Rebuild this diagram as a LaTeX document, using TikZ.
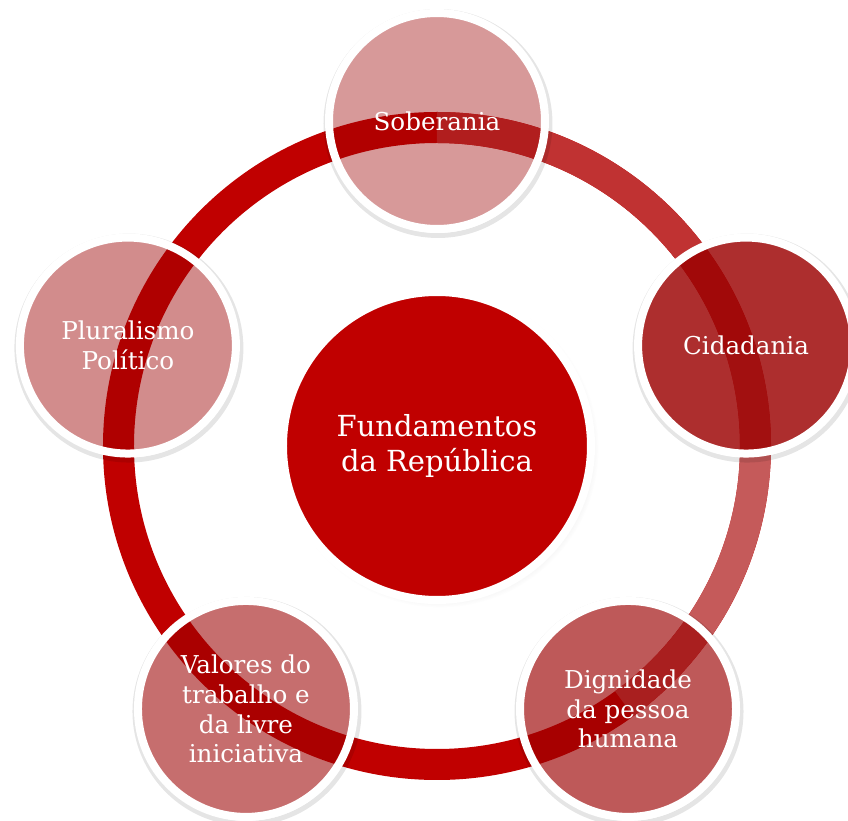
\documentclass[tikz,border=0pt]{standalone}
\usepackage{fontspec}
\setmainfont{DejaVu Serif}
\usetikzlibrary{shadows}
\definecolor{ringA}{RGB}{192,0,0}
\definecolor{ringB}{RGB}{192,50,50}
\definecolor{ringC}{RGB}{197,90,90}
\definecolor{satC}{RGB}{155,0,0}
\tikzstyle{ring}=[line width=0.62cm, line cap=butt]
\tikzstyle{shade}=[draw=black, draw opacity=0.10, line width=0.10cm]
\tikzstyle{hub}=[draw=white, line width=0.16cm, fill=ringA, shape=circle, minimum size=6.16cm, inner sep=0pt, align=center, text=white, font=\fontsize{16.5}{20}\selectfont, circular drop shadow={shadow scale=1.03, opacity=0.25}]
\tikzstyle{sat}=[draw=white, line width=0.16cm, fill=satC, shape=circle, minimum size=4.32cm, inner sep=0pt, align=center, text=white, text opacity=1, font=\fontsize{14}{17}\selectfont]
\def\hub{\node[style=hub]}
\def\sat{\node[style=sat]}
\def\shade{\draw[style=shade]}

\begin{document}
\begin{tikzpicture}
      \useasboundingbox (-8.74,-7.5) rectangle (8.22,8.92);
      \clip (-8.74,-7.5) rectangle (8.22,8.92);
      % ring
      \draw[style=ring, color=ringA] (0,0) circle (6.37);
      \draw[style=ring, color=ringB] (90:6.37) arc[start angle=90, end angle=18, radius=6.37];
      \draw[style=ring, color=ringC] (18:6.37) arc[start angle=18, end angle=-54, radius=6.37];
      % shadows
      \coordinate (pSob) at (90:6.5);
      \coordinate (pCid) at (18:6.5);
      \coordinate (pDig) at (-54:6.5);
      \coordinate (pVal) at (-126:6.5);
      \coordinate (pPlu) at (162:6.5);
      \shade ([shift={(0.02,-0.05)}]pSob) circle (2.24);
      \shade ([shift={(0.02,-0.05)}]pCid) circle (2.24);
      \shade ([shift={(0.02,-0.05)}]pDig) circle (2.24);
      \shade ([shift={(0.02,-0.05)}]pVal) circle (2.24);
      \shade ([shift={(0.02,-0.05)}]pPlu) circle (2.24);
      % next
      \sat[fill opacity=0.40] (Soberania)  at (pSob) {Soberania};
      \sat[fill opacity=0.82] (Cidadania)  at (pCid) {Cidadania};
      \sat[fill opacity=0.65] (Dignidade)  at (pDig) {Dignidade\\da pessoa\\humana};
      \sat[fill opacity=0.57] (Valores)    at (pVal) {Valores do\\trabalho e\\da livre\\iniciativa};
      \sat[fill opacity=0.45] (Pluralismo) at (pPlu) {Pluralismo\\Político};
      % next
      \hub (Fundamentos) at (0,0) {Fundamentos\\da República};
\end{tikzpicture}
\end{document}
